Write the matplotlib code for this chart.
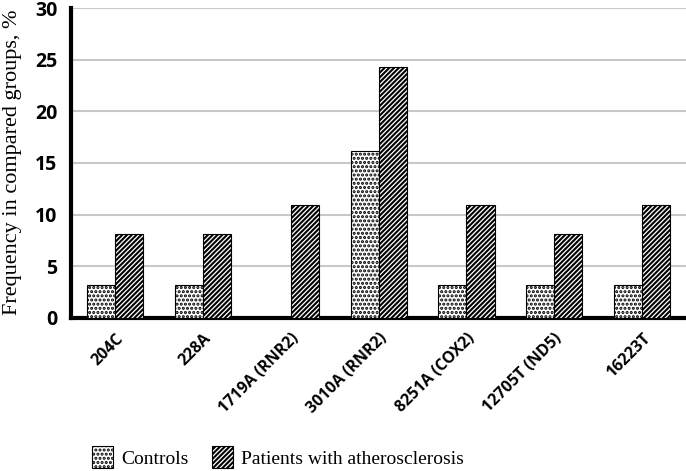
import matplotlib.pyplot as plt
import matplotlib.transforms as mtransforms
import numpy as np

categories = ["204C", "228A", "1719A (RNR2)", "3010A (RNR2)", "8251A (COX2)", "12705T (ND5)", "16223T"]
controls = [3.2, 3.2, 0, 16.2, 3.2, 3.2, 3.2]
patients = [8.1, 8.1, 10.9, 24.3, 10.9, 8.1, 10.9]

plt.rcParams['hatch.linewidth'] = 1.5

fig = plt.figure(figsize=(6.86, 4.71), dpi=100)
ax = fig.add_axes([0.104, 0.325, 0.896, 0.658])

x = np.arange(len(categories))
w = 0.32
ax.bar(x - w/2, controls, w, color='white', edgecolor='black', hatch='....', linewidth=0.8, label='Controls', zorder=3)
ax.bar(x + w/2, patients, w, color='white', edgecolor='black', hatch='///////', linewidth=0.8,
       label='Patients with atherosclerosis', zorder=3)

ax.set_xlim(-0.5, len(categories) - 0.5)
ax.set_ylim(0, 30)
ax.set_yticks(range(0, 31, 5))
ax.yaxis.grid(True, color='#c8c8c8', linewidth=1.5, zorder=0)
ax.set_axisbelow(True)

for s in ['top', 'right']:
    ax.spines[s].set_visible(False)
ax.spines['left'].set_linewidth(3)
ax.spines['bottom'].set_linewidth(3)
ax.tick_params(length=0)

ax.set_xticks(x)
ax.set_xticklabels(categories, rotation=45, ha='right', rotation_mode='anchor',
                   fontsize=11.5, fontweight='bold', family='Open Sans')
shift = mtransforms.ScaledTranslation(-0.08, 0, fig.dpi_scale_trans)
for lab in ax.get_xticklabels():
    lab.set_transform(lab.get_transform() + shift)
for lab in ax.get_yticklabels():
    lab.set_fontsize(14)
    lab.set_fontweight('bold')
    lab.set_family('Open Sans')
ax.tick_params(axis='y', pad=10)
ax.tick_params(axis='x', pad=9)

fig.text(0.018, 0.655, 'Frequency in compared groups, %', family='Liberation Serif', fontsize=16,
         rotation=90, ha='center', va='center')

fig.legend(loc='lower center', bbox_to_anchor=(0.405, -0.03), ncol=2, frameon=False,
           prop={'family': 'Liberation Serif', 'size': 14}, handlelength=1.1, handleheight=1.3,
           columnspacing=1.2, handletextpad=0.4)

fig.savefig('out.png', dpi=100)
